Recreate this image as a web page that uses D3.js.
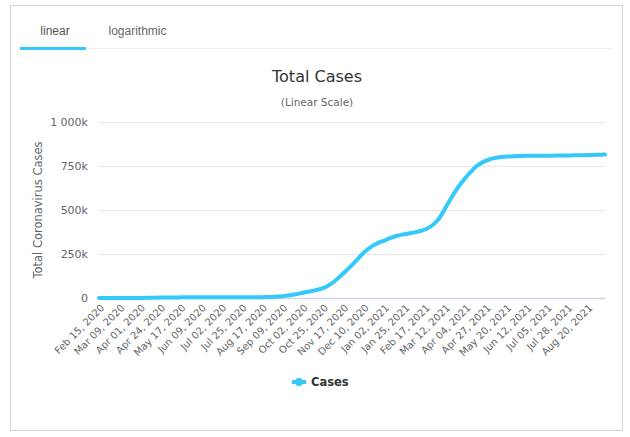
<!DOCTYPE html>
<html><head><meta charset="utf-8">
<script src="https://cdn.jsdelivr.net/npm/d3@7"></script>
<style>
html,body{margin:0;padding:0;background:#fff;}
svg{display:block;}
</style></head>
<body>
<svg id="c" width="630" height="437"></svg>
<script>
// ---- data ----
const startDate = "2020-02-15";   // first category
const endDate = "2021-09-09";     // last category
const stepDays = 7;               // spacing of the sampled values below
const totalCases = [
  0, 0, 0, 5, 30, 103, 343, 678, 1190, 1916, 2443, 2942, 3263, 3509, 3713, 3876,
  3990, 4075, 4102, 4145, 4183, 4220, 4263, 4350, 4480, 4660, 4910, 5250, 6000, 8000,
  12000, 17000, 23000, 30000, 37000, 45000, 54000, 70000, 94000, 125000, 158000, 192000,
  230000, 265000, 292000, 312000, 325000, 340000, 352000, 360000, 366000, 373000, 382000,
  395000, 418000, 455000, 515000, 575000, 630000, 675000, 715000, 750000, 772000, 787000,
  796000, 801000, 804000, 806000, 807000, 807600, 808000, 808300, 808600, 808900, 809200,
  809600, 810100, 810700, 811300, 812000, 813000, 814200
];
const lastValue = 815500;
const tickStepDays = 23;
const yTicks = [0, 250000, 500000, 750000, 1000000];
const yTickLabels = ["0", "250k", "500k", "750k", "1 000k"];
const tabs = ["linear", "logarithmic"];
const titleText = "Total Cases";
const subtitleText = "(Linear Scale)";
const yTitle = "Total Coronavirus Cases";
const seriesName = "Cases";

// ---- build points ----
const parse = d3.utcParse("%Y-%m-%d");
const d0 = parse(startDate), d1 = parse(endDate);
const pts = totalCases.map((v, i) => ({date: d3.utcDay.offset(d0, i * stepDays), value: v}));
pts.push({date: d1, value: lastValue});

const svg = d3.select("#c");
const font = "'DejaVu Sans', Verdana, sans-serif";
const lineColor = "#33c9fb";

// outer frame
svg.append("rect").attr("x", 10.5).attr("y", 5.5).attr("width", 612).attr("height", 425)
  .attr("fill", "#fff").attr("stroke", "#d4d4d4");

// tabs
svg.append("line").attr("x1", 20).attr("x2", 612).attr("y1", 48.5).attr("y2", 48.5)
  .attr("stroke", "#eeeeee");
svg.append("rect").attr("x", 20).attr("y", 47).attr("width", 66).attr("height", 3).attr("fill", lineColor);
svg.append("text").attr("x", 55).attr("y", 35).attr("text-anchor", "middle")
  .attr("font-family", "'Liberation Sans', Arial, sans-serif").attr("font-size", 12)
  .attr("fill", "#555").text(tabs[0]);
svg.append("text").attr("x", 137.5).attr("y", 35).attr("text-anchor", "middle")
  .attr("font-family", "'Liberation Sans', Arial, sans-serif").attr("font-size", 12)
  .attr("fill", "#666").text(tabs[1]);

// titles
svg.append("text").attr("x", 317).attr("y", 82).attr("text-anchor", "middle")
  .attr("font-family", font).attr("font-size", 16).attr("fill", "#333").text(titleText);
svg.append("text").attr("x", 317).attr("y", 106).attr("text-anchor", "middle")
  .attr("font-family", font).attr("font-size", 10.5).attr("fill", "#666").text(subtitleText);

// scales
const pLeft = 99, pRight = 605, pTop = 122, pBottom = 298;
const x = d3.scaleUtc().domain([d0, d1]).range([pLeft, pRight]);
const y = d3.scaleLinear().domain([0, 1000000]).range([pBottom, pTop]);

// grid + y labels
const yAxis = d3.axisLeft(y).tickValues(yTicks).tickSize(-(pRight - pLeft))
  .tickFormat((d, i) => yTickLabels[i]);
const gy = svg.append("g").attr("transform", `translate(${pLeft},0)`).call(yAxis);
gy.select(".domain").remove();
gy.selectAll(".tick line").attr("stroke", "#e6e6e6");
gy.selectAll(".tick text").attr("x", -11).attr("font-family", font).attr("font-size", 11).attr("fill", "#666");

// x axis
const xTicks = d3.range(0, 25).map(i => d3.utcDay.offset(d0, i * tickStepDays));
const fmt = d3.utcFormat("%b %d, %Y");
const xAxis = d3.axisBottom(x).tickValues(xTicks).tickSize(0).tickFormat(fmt);
const gx = svg.append("g").attr("transform", `translate(0,${pBottom})`).call(xAxis);
gx.select(".domain").attr("stroke", "#ccd6eb").attr("stroke-width", 1.5);
gx.selectAll(".tick text")
  .attr("font-family", font).attr("font-size", 10).attr("fill", "#666")
  .attr("text-anchor", "end").attr("x", 3).attr("y", 8).attr("dy", "0.35em")
  .attr("transform", "rotate(-45, 3, 8)");

// y title
svg.append("text").attr("transform", "translate(42,210) rotate(-90)")
  .attr("text-anchor", "middle").attr("font-family", font).attr("font-size", 11.5)
  .attr("fill", "#666").text(yTitle);

// line
const line = d3.line().x(d => x(d.date)).y(d => y(d.value)).curve(d3.curveMonotoneX);
svg.append("path").datum(pts).attr("d", line).attr("fill", "none")
  .attr("stroke", lineColor).attr("stroke-width", 4).attr("stroke-linejoin", "round").attr("stroke-linecap", "round");

// legend
svg.append("line").attr("x1", 292).attr("x2", 306).attr("y1", 382).attr("y2", 382)
  .attr("stroke", lineColor).attr("stroke-width", 4);
svg.append("circle").attr("cx", 299).attr("cy", 382).attr("r", 4).attr("fill", lineColor);
svg.append("text").attr("x", 311).attr("y", 386).attr("font-family", font).attr("font-size", 11.5)
  .attr("font-weight", "bold").attr("fill", "#333").text(seriesName);
</script>
</body></html>
